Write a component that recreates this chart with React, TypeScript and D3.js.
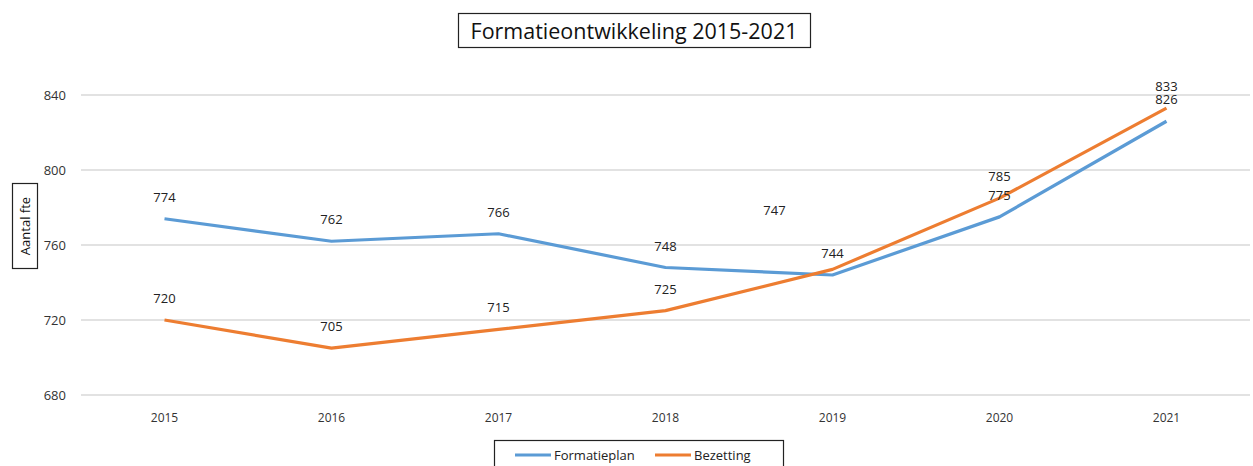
import React from "react";
import * as d3 from "d3";

const years = ["2015", "2016", "2017", "2018", "2019", "2020", "2021"];
const formatieplan = [774, 762, 766, 748, 744, 775, 826];
const bezetting = [720, 705, 715, 725, 747, 785, 833];
const yTicks = [680, 720, 760, 800, 840];

const WIDTH = 1253;
const HEIGHT = 466;
const FONT = "'Open Sans', 'Noto Sans', sans-serif";
const BLUE = "#5b9bd5";
const ORANGE = "#ed7d31";

const App = () => {
  const x = d3.scaleBand().domain(years).range([81, 1250]);
  const y = d3.scaleLinear().domain([680, 840]).range([395, 95]);
  const cx = (yr: string) => (x(yr) ?? 0) + x.bandwidth() / 2;

  const line = d3
    .line<number>()
    .x((_, i) => cx(years[i]))
    .y((d) => y(d));

  const series = [
    { name: "Formatieplan", values: formatieplan, color: BLUE },
    { name: "Bezetting", values: bezetting, color: ORANGE },
  ];

  // the 2019 Bezetting label sits off to the upper left in the original
  const labelShift = (s: string, i: number) =>
    s === "Bezetting" && years[i] === "2019" ? { dx: -58, dy: -37 } : { dx: 0, dy: 0 };

  return (
    <svg
      width={WIDTH}
      height={HEIGHT}
      style={{ position: "absolute", left: 0, top: 0, background: "#fff" }}
      fontFamily={FONT}
    >
      {/* clipped remnant of heading above */}
      <text x={480} y={-6} fontSize={26} textAnchor="middle" fill="#222">
        g
      </text>

      {/* title */}
      <rect x={458.5} y={13.5} width={352} height={34} fill="none" stroke="#222" strokeWidth={1.2} />
      <text x={634} y={39} fontSize={21.5} textAnchor="middle" fill="#111">
        Formatieontwikkeling 2015-2021
      </text>

      {/* grid + y ticks */}
      {yTicks.map((t) => (
        <g key={t}>
          <line x1={81} x2={1250} y1={y(t)} y2={y(t)} stroke="#d9d9d9" strokeWidth={1.3} />
          <text x={66} y={y(t) + 5} fontSize={13} textAnchor="end" fill="#333">
            {t}
          </text>
        </g>
      ))}

      {/* y axis title */}
      <rect x={12.5} y={183.5} width={25} height={85} fill="none" stroke="#222" strokeWidth={1.2} />
      <text
        transform={`translate(30,226) rotate(-90)`}
        fontSize={13}
        textAnchor="middle"
        fill="#111"
      >
        Aantal fte
      </text>

      {/* x labels */}
      {years.map((yr) => (
        <text key={yr} x={cx(yr)} y={422} fontSize={12} textAnchor="middle" fill="#333">
          {yr}
        </text>
      ))}

      {/* lines */}
      {series.map((s) => (
        <path
          key={s.name}
          d={line(s.values) ?? ""}
          fill="none"
          stroke={s.color}
          strokeWidth={3.2}
          strokeLinejoin="round"
        />
      ))}

      {/* data labels */}
      {series.map((s) =>
        s.values.map((v, i) => {
          const sh = labelShift(s.name, i);
          return (
            <text
              key={s.name + i}
              x={cx(years[i]) + sh.dx}
              y={y(v) - 17 + sh.dy}
              fontSize={13}
              textAnchor="middle"
              fill="#222"
            >
              {v}
            </text>
          );
        })
      )}

      {/* legend */}
      <rect x={494.5} y={440.5} width={289} height={30} fill="#fff" stroke="#222" strokeWidth={1.2} />
      {series.map((s, i) => {
        const lx = i === 0 ? 515 : 655;
        return (
          <g key={s.name}>
            <line x1={lx} x2={lx + 36} y1={455} y2={455} stroke={s.color} strokeWidth={3.2} />
            <text x={lx + 39} y={460} fontSize={13} fill="#222">
              {s.name}
            </text>
          </g>
        );
      })}
    </svg>
  );
};

export default App;
